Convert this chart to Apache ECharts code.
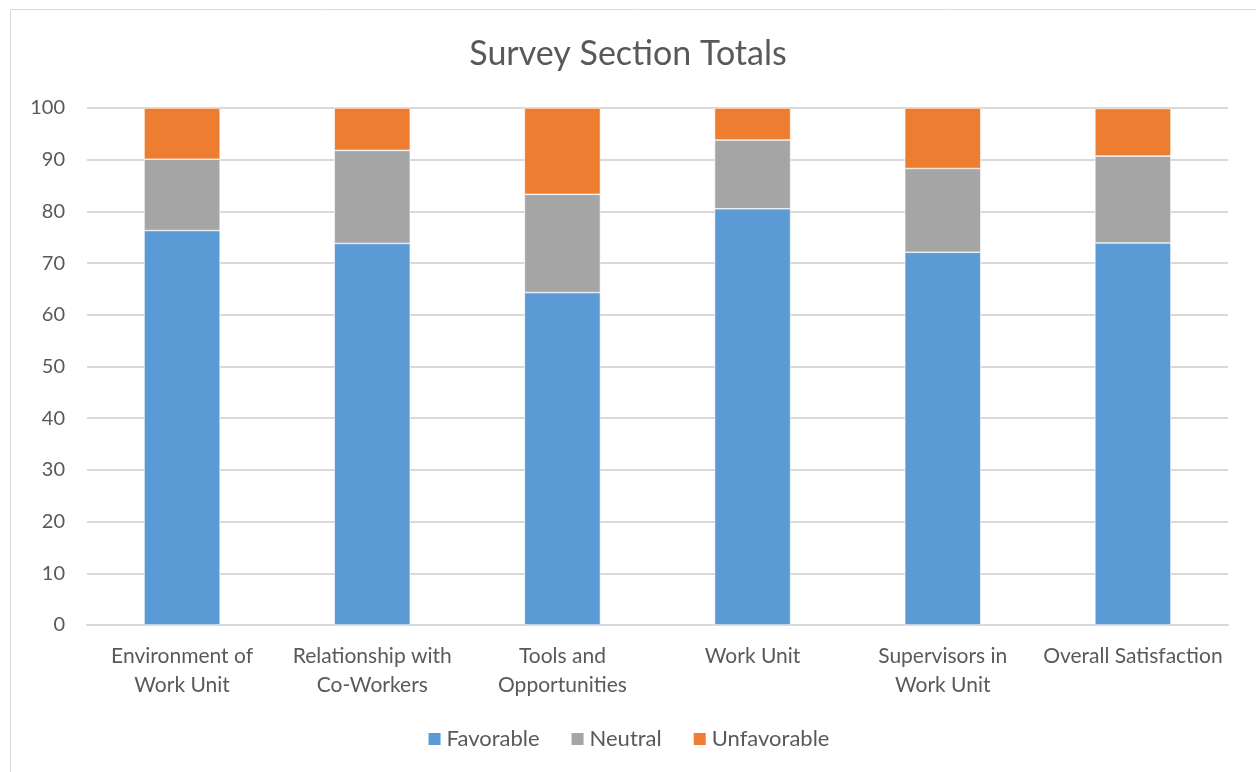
<!DOCTYPE html>
<html>
<head>
<meta charset="utf-8">
<script src="https://cdn.jsdelivr.net/npm/echarts@6/dist/echarts.min.js"></script>
<style>
  html, body { margin: 0; padding: 0; background: #fff; }
  #main { width: 1256px; height: 772px; }
</style>
</head>
<body>
<div id="main"></div>
<script>
const categories = [
    'Environment of\nWork Unit',
    'Relationship with\nCo-Workers',
    'Tools and\nOpportunities',
    'Work Unit',
    'Supervisors in\nWork Unit',
    'Overall Satisfaction'
];
const favorable = [76.3, 73.8, 64.3, 80.5, 72.1, 73.9];
const neutral = [13.8, 18.0, 19.0, 13.3, 16.2, 16.8];
const unfavorable = [9.9, 8.2, 16.7, 6.2, 11.7, 9.2];
const yTicks = [0, 10, 20, 30, 40, 50, 60, 70, 80, 90, 100];

const font = 'Lato, "Open Sans", sans-serif';
const textColor = '#595959';

const makeSeries = (name, data, color) => {
    return {
        name: name,
        type: 'bar',
        stack: 'total',
        barWidth: '40%',
        data: data,
        itemStyle: { color: color, borderColor: '#ffffff', borderWidth: 0.6 }
    };
};

const chart = echarts.init(document.getElementById('main'));
chart.setOption({
    animation: false,
    textStyle: { fontFamily: font },
    graphic: [{
        type: 'rect',
        shape: { x: 10.5, y: 9.5, width: 1260, height: 780 },
        style: { fill: 'none', stroke: '#d9d9d9', lineWidth: 1 }
    }],
    title: {
        text: 'Survey Section Totals',
        left: 'center',
        top: 32,
        textStyle: { fontFamily: font, fontSize: 34, fontWeight: 'normal', color: textColor }
    },
    legend: {
        bottom: 17,
        left: 'center',
        itemWidth: 14,
        itemHeight: 14,
        itemGap: 30,
        itemTextGap: 6,
        icon: 'rect',
        textStyle: { fontFamily: font, fontSize: 22, color: textColor }
    },
    grid: { left: 87, right: 28, top: 108, bottom: 147 },
    xAxis: {
        type: 'category',
        data: categories,
        axisTick: { show: false },
        axisLine: { lineStyle: { color: '#d9d9d9', width: 2 } },
        axisLabel: { fontFamily: font, fontSize: 21, color: textColor, margin: 17, lineHeight: 29, interval: 0 }
    },
    yAxis: {
        type: 'value',
        min: yTicks[0],
        max: yTicks[yTicks.length - 1],
        interval: 10,
        axisLine: { show: false },
        axisTick: { show: false },
        axisLabel: { fontFamily: font, fontSize: 20, color: textColor, margin: 22 },
        splitLine: { lineStyle: { color: '#d9d9d9', width: 2 } }
    },
    series: [
        makeSeries('Favorable', favorable, '#5b9bd5'),
        makeSeries('Neutral', neutral, '#a5a5a5'),
        makeSeries('Unfavorable', unfavorable, '#ed7d31')
    ]
});
</script>
</body>
</html>
